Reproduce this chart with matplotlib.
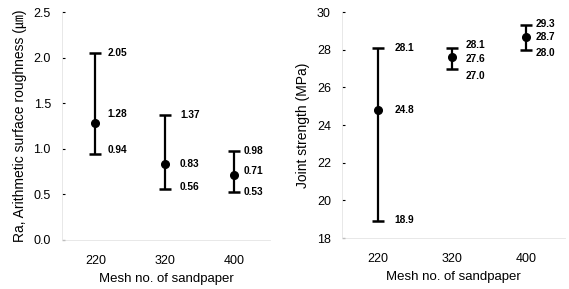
import matplotlib.pyplot as plt

mesh = ['220', '320', '400']

ra_mean = [1.28, 0.83, 0.71]
ra_low = [0.94, 0.56, 0.53]
ra_high = [2.05, 1.37, 0.98]

js_mean = [24.8, 27.6, 28.7]
js_low = [18.9, 27.0, 28.0]
js_high = [28.1, 28.1, 29.3]

plt.rcParams['font.family'] = ['Liberation Sans', 'Noto Sans CJK JP', 'DejaVu Sans']

fig = plt.figure(figsize=(5.69, 2.89), dpi=100)
ax1 = fig.add_axes([0.109, 0.17, 0.366, 0.788])
ax2 = fig.add_axes([0.601, 0.176, 0.392, 0.782])


def panel(ax, mean, low, high, ylim, yticks, fmt, ylabel, xoffs, yoffs):
    x = list(range(len(mean)))
    err = [[m - l for m, l in zip(mean, low)], [h - m for m, h in zip(mean, high)]]
    ax.errorbar(x, mean, yerr=err, fmt='o', color='black', ms=5.5,
                elinewidth=1.6, capsize=4, capthick=1.8)
    for i in x:
        vals = [high[i], mean[i], low[i]]
        for j, v in enumerate(vals):
            ax.annotate(fmt.format(v), (i, v), xytext=(xoffs[i], yoffs[i][j]),
                        textcoords='offset points', ha='left', va='center',
                        fontsize=7.3, fontweight='bold')
    ax.set_xlim(-0.48, 2.52)
    ax.set_ylim(*ylim)
    ax.set_yticks(yticks)
    ax.set_xticks(x)
    ax.set_xticklabels(mesh)
    for s in ['top', 'right']:
        ax.spines[s].set_visible(False)
    for s in ['left', 'bottom']:
        ax.spines[s].set_color('#e4e4e4')
        ax.spines[s].set_linewidth(0.6)
    ax.tick_params(axis='y', direction='in', length=2, width=0.8, pad=8, labelsize=9)
    ax.tick_params(axis='x', length=0, pad=11, labelsize=9)
    ax.set_xlabel('Mesh no. of sandpaper', fontsize=9.5, labelpad=4)
    ax.set_ylabel(ylabel, fontsize=10, labelpad=5)


panel(ax1, ra_mean, ra_low, ra_high, (0, 2.5), [0, 0.5, 1.0, 1.5, 2.0, 2.5], '{:.2f}',
      'Ra, Arithmetic surface roughness (㎛)', [9, 11, 7],
      [[0, 7, 3], [0, 0, 1], [0, 3, 0]])
panel(ax2, js_mean, js_low, js_high, (18, 30), [18, 20, 22, 24, 26, 28, 30], '{:.1f}',
      'Joint strength (MPa)', [12, 10, 7],
      [[0, 0, 1], [2, -1, -5], [1, 0, -2]])
ax1.yaxis.set_major_formatter(plt.FormatStrFormatter('%.1f'))

fig.savefig('out.png', dpi=100)
